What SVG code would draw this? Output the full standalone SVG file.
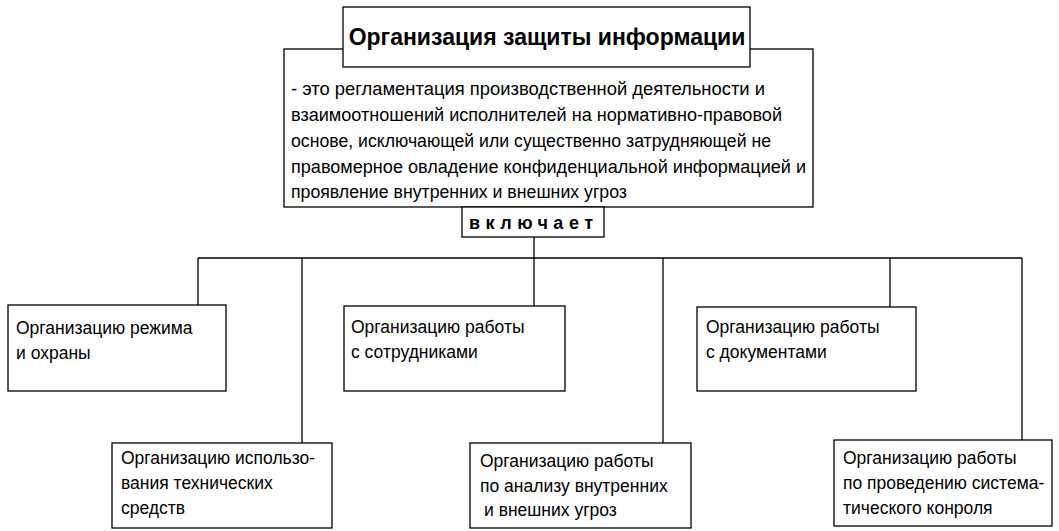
<svg xmlns="http://www.w3.org/2000/svg" width="1059" height="531" viewBox="0 0 1059 531">
<style>
.box{fill:#fff;stroke:#000;stroke-width:1.3}
.ln{fill:none;stroke:#000;stroke-width:1.3}
text{font-family:"Liberation Sans",Arial,sans-serif;fill:#000}
.t{font-size:17.5px}
.d{font-size:18px}
.ti{font-size:23px;font-weight:bold}
.inc{font-size:18px;font-weight:bold;letter-spacing:5.5px}
</style>
<rect width="1059" height="531" fill="#fff"/>
<g id="connectors">
<path class="ln" d="M198 258H1022M198 258V305M302 258V443M534 237V306M663 258V443M890 258V307M1022 258V440"/>
</g>
<g id="definition">
<rect class="box" x="284" y="49" width="529" height="158"/>
<text class="d" x="291" y="95" textLength="474" lengthAdjust="spacingAndGlyphs">- это регламентация производственной деятельности и</text>
<text class="d" x="291" y="121" textLength="491" lengthAdjust="spacingAndGlyphs">взаимоотношений исполнителей на нормативно-правовой</text>
<text class="d" x="291" y="147" textLength="480" lengthAdjust="spacingAndGlyphs">основе, исключающей или существенно затрудняющей не</text>
<text class="d" x="291" y="173" textLength="515" lengthAdjust="spacingAndGlyphs">правомерное овладение конфиденциальной информацией и</text>
<text class="d" x="291" y="198" textLength="336" lengthAdjust="spacingAndGlyphs">проявление внутренних и внешних угроз</text>
</g>
<g id="title">
<rect class="box" x="343" y="7" width="407" height="60"/>
<text class="ti" x="547" y="45" text-anchor="middle">Организация защиты информации</text>
</g>
<g id="includes">
<rect class="box" x="462" y="207" width="142" height="30"/>
<text class="inc" x="469" y="229">включает</text>
</g>
<g id="n1">
<rect class="box" x="8" y="305" width="218" height="86"/>
<text class="t" x="16" y="334">Организацию режима</text>
<text class="t" x="16" y="359">и охраны</text>
</g>
<g id="n2">
<rect class="box" x="112" y="443" width="220" height="85"/>
<text class="t" x="121" y="464">Организацию использо-</text>
<text class="t" x="121" y="489">вания технических</text>
<text class="t" x="121" y="514">средств</text>
</g>
<g id="n3">
<rect class="box" x="344" y="306" width="221" height="85"/>
<text class="t" x="351" y="333">Организацию работы</text>
<text class="t" x="351" y="358">с сотрудниками</text>
</g>
<g id="n4">
<rect class="box" x="470" y="443" width="221" height="85"/>
<text class="t" x="480" y="467">Организацию работы</text>
<text class="t" x="480" y="492">по анализу внутренних</text>
<text class="t" x="484" y="516">и внешних угроз</text>
</g>
<g id="n5">
<rect class="box" x="697" y="307" width="219" height="84"/>
<text class="t" x="706" y="333">Организацию работы</text>
<text class="t" x="706" y="358">с документами</text>
</g>
<g id="n6">
<rect class="box" x="834" y="440" width="218" height="86"/>
<text class="t" x="843" y="464">Организацию работы</text>
<text class="t" x="843" y="489">по проведению система-</text>
<text class="t" x="843" y="514">тического конроля</text>
</g>
</svg>
